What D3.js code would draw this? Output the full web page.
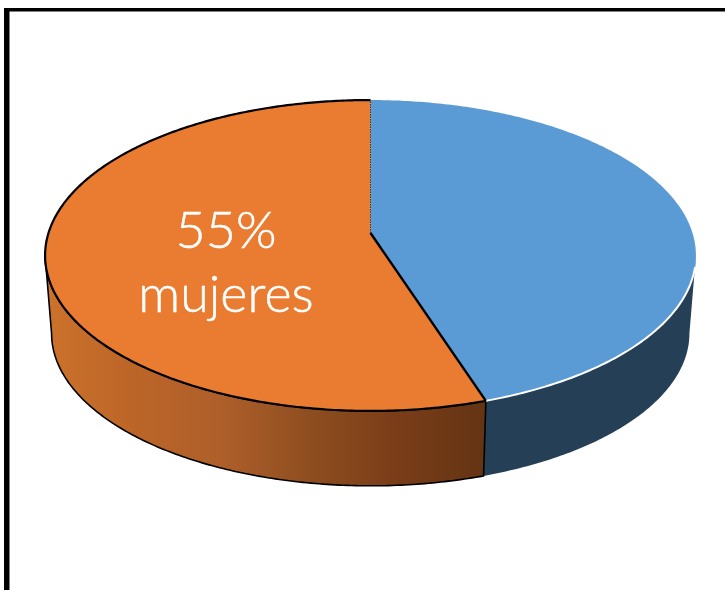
<!DOCTYPE html>
<html><head><meta charset="utf-8">
<script src="https://cdn.jsdelivr.net/npm/d3@7"></script>
<style>html,body{margin:0;padding:0;background:#fff;overflow:hidden}svg{display:block}</style>
</head><body><svg id="c" width="725" height="590"></svg>
<script>
const categories = ["hombres", "mujeres"];
const values = [45, 55];
const sliceColors = ["#5B9BD5", "#EA7C31"];
const wallBlue = "#243F56";
const wallStops = ["#CC722B", "#BC6528", "#AE5F2A", "#8F4E20", "#7A3D19", "#643413"];
const labelLines = ["55%", "mujeres"];

const W = 725, H = 590;
const svg = d3.select("#c");
const defs = svg.append("defs");

// Frame
svg.append("rect").attr("x",4).attr("y",8).attr("width",W).attr("height",H).attr("fill","#000");
svg.append("rect").attr("x",9.5).attr("y",11.5).attr("width",W).attr("height",H).attr("fill","#fff");

// Perspective projection of a unit disc (a = clockwise angle from top)
const cx = 370.5, cy = 233, k = 0.1446, ax = 322, ay = 152.2;
const topPt = a => {
  const u = Math.sin(a), v = -Math.cos(a), d = 1 - k * v;
  return [cx + ax * u / d, cy + ay * v / d];
};
const eyC = cy + ay * k / (1 - k * k), sc = 0.98, drop = 78;
const botPt = a => {
  const p = topPt(a);
  return [cx + sc * (p[0] - cx), eyC + drop + sc * (p[1] - eyC)];
};
const sample = (a0, a1, f) => {
  const n = Math.max(2, Math.ceil(Math.abs(a1 - a0) * 90));
  const t = d3.scaleLinear().domain([0, n]).range([a0, a1]);
  return d3.range(n + 1).map(i => f(t(i)));
};
const line = d3.line();
const pie = d3.pie().sort(null)(values);
const [blue, orange] = pie;
const leftLimit = 2 * Math.PI - Math.acos(-k), rightLimit = Math.acos(-k);

// Gradient for the orange wall
const grad = defs.append("linearGradient").attr("id","wallO")
  .attr("gradientUnits","userSpaceOnUse")
  .attr("x1",45).attr("x2",485).attr("y1",0).attr("y2",0);
wallStops.forEach((c,i)=>grad.append("stop").attr("offset",i/(wallStops.length-1)).attr("stop-color",c));

// Walls
const wall = (a0,a1) => line([...sample(a0,a1,topPt), ...sample(a1,a0,botPt)]) + "Z";
svg.append("path").attr("d", wall(rightLimit, blue.endAngle)).attr("fill", wallBlue);
svg.append("path").attr("d", wall(blue.endAngle, leftLimit)).attr("fill","url(#wallO)")
  .attr("stroke","#000").attr("stroke-width",1.6).attr("stroke-linejoin","round");

// Top faces
const apex = [cx, cy];
const wedge = d => line([apex, ...sample(d.startAngle, d.endAngle, topPt)]) + "Z";
svg.append("path").attr("d", wedge(blue)).attr("fill", sliceColors[0]);
svg.append("path").attr("d", line(sample(Math.PI*0.57, blue.endAngle, topPt)))
  .attr("fill","none").attr("stroke","#fff").attr("stroke-width",2);
svg.append("path").attr("d", wedge(orange)).attr("fill", sliceColors[1]);
// Orange outline: rim and the front radius
svg.append("path").attr("d", line([topPt(blue.endAngle), ...sample(blue.endAngle, orange.endAngle, topPt)]))
  .attr("fill","none").attr("stroke","#000").attr("stroke-width",2.2);
svg.append("path").attr("d", line([apex, topPt(blue.endAngle)]))
  .attr("fill","none").attr("stroke","#000").attr("stroke-width",2.4);
svg.append("path").attr("d", line([apex, topPt(0)]))
  .attr("fill","none").attr("stroke","#333").attr("stroke-width",1).attr("stroke-dasharray","1.5 1");

// Label
const label = svg.append("text").attr("fill","#fff").attr("stroke","#fff").attr("stroke-width",0.5)
  .attr("text-anchor","middle")
  .attr("font-family","Lato, 'Open Sans', sans-serif").attr("font-weight",300).attr("font-size",52);
labelLines.forEach((t,i)=>label.append("tspan").attr("x",226).attr("y",i?312:248).text(t));
</script></body></html>
